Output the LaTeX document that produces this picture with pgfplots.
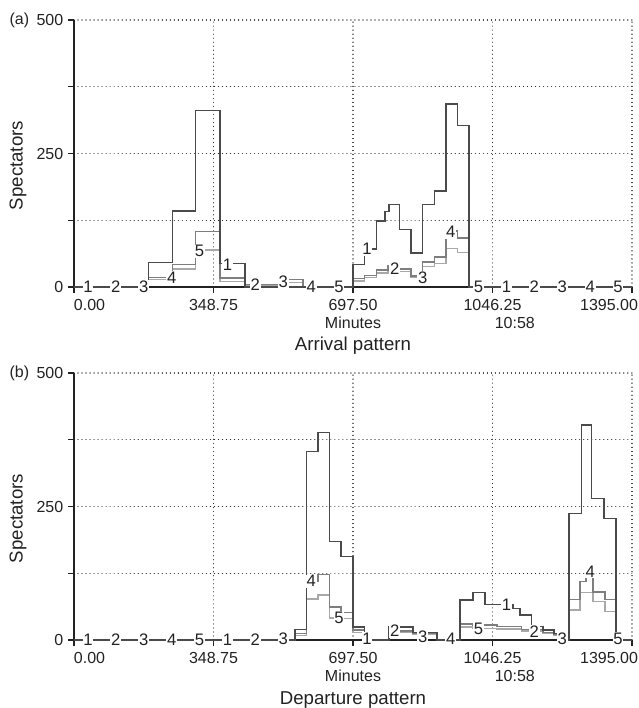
\documentclass[border=0pt]{standalone}
\usepackage{pgfplots}
\pgfplotsset{compat=1.18}
\usepackage{fontspec}
\setmainfont{Liberation Sans}

\definecolor{serA}{HTML}{4A4A4A}
\definecolor{serD}{HTML}{7E7E7E}
\definecolor{serE}{HTML}{A8A8A8}
\definecolor{ink}{HTML}{222222}

\newcommand{\tk}{\fontsize{12}{14}\selectfont}
\newcommand{\nm}{\fontsize{12.5}{14}\selectfont}
\newcommand{\ttl}{\fontsize{14}{16}\selectfont}

\pgfplotsset{
  panel/.style={
    width=418.5pt, height=200.25pt, scale only axis,
    xmin=0, xmax=1395, ymin=0, ymax=500,
    axis x line*=bottom, axis y line*=left,
    axis line style={-, ink, line width=1pt},
    xtick={0,348.75,697.5,1046.25,1395},
    xticklabels={\makebox[0pt][l]{0.00},348.75,697.50,1046.25,\makebox[9pt][r]{1395.00}},
    ytick={0,125,250,375,500},
    yticklabels={0,,250,,500},
    tick align=outside, major tick length=4.5pt,
    tick style={ink, line width=0.8pt},
    ticklabel style={font=\tk, text=ink},
    xticklabel style={yshift=-1.5pt},
    grid=major,
    grid style={black!85, line width=0.9pt, dash pattern=on 0.01pt off 3pt, line cap=round},
    clip=false,
    /pgf/number format/assume math mode=true,
  },
  step/.style={const plot, mark=none, line width=1.1pt},
  nums/.style={draw=none, mark=none, nodes near coords, point meta=explicit symbolic,
    every node near coord/.append style={anchor=center, fill=white, inner sep=0.6pt, font=\nm, text=ink}},
}

\begin{document}
\begin{tikzpicture}
\path[use as bounding box] (-55.5pt,-315.75pt) rectangle (423.75pt,215.25pt);

% (a) arrival pattern
\begin{axis}[panel, at={(0,0)}, anchor=south west]
\addplot[step, serE] coordinates {(0,0) (186,14) (246,34) (304,69) (365,10) (427,3) (532,8) (573,0) (697.5,11) (726.6,18) (755.6,26) (784.7,32) (813.75,29) (842.8,18) (871.9,38) (900.9,44) (930,72) (959,65) (988,0) (1395,0)};
\addplot[step, serD] coordinates {(0,0) (186,18) (246,42) (304,104) (365,17) (427,5) (532,14) (573,0) (697.5,16) (726.6,22) (755.6,32) (784.7,40) (813.75,34) (842.8,21) (871.9,47) (900.9,56) (930,105) (959,92) (988,0) (1395,0)};
\addplot[step, serA] coordinates {(0,0) (186,46) (246,142) (304,331) (365,44) (427,0) (697.5,42) (726.6,71) (755.6,124) (777,141) (788,155) (813.75,108) (842.8,64) (871.9,155) (900.9,180) (930,343) (959,302) (988,0) (1395,0)};
\addplot[nums] table[x=x, y=y, meta=l] {
x y l
34.875 0 1
104.625 0 2
174.375 0 3
244.125 17 4
313.875 67 5
383.625 42 1
453.375 4 2
523.125 10 3
592.875 0 4
662.625 0 5
732.375 71 1
802.125 34 2
871.875 18 3
941.625 103 4
1011.375 0 5
1081.125 0 1
1150.875 0 2
1220.625 0 3
1290.375 0 4
1360.125 0 5
};
\node[font=\tk, text=ink] at (rel axis cs:0.5,0) [yshift=-27pt] {Minutes};
\node[font=\tk, text=ink] at (rel axis cs:0.79,0) [yshift=-27pt] {10:58};
\node[font=\ttl, text=ink] at (rel axis cs:0.5,0) [yshift=-44.25pt] {Arrival pattern};
\node[font=\tk, text=ink] at (rel axis cs:0,1) [xshift=-41pt] {(a)};
\node[font=\ttl, text=ink, xshift=-42pt, rotate=90] at (rel axis cs:0,0.455) {Spectators};
\end{axis}

% (b) departure pattern
\begin{axis}[panel, at={(0,-264.75pt)}, anchor=south west]
\addplot[step, serE] coordinates {(0,0) (552,8) (581,77) (610,84) (639,41) (668,40) (697.5,14) (726.6,0) (788,14) (848,10) (907,0) (965,24) (998,22) (1057,21) (1119,17) (1173,12) (1200,8) (1215,0) (1238,56) (1265,89) (1298,72) (1327,53) (1355,0) (1395,0)};
\addplot[step, serD] coordinates {(0,0) (552,12) (581,110) (610,123) (639,62) (668,52) (697.5,19) (726.6,0) (788,17) (848,12) (907,0) (965,30) (998,28) (1057,25) (1119,20) (1173,14) (1200,10) (1215,0) (1238,76) (1265,110) (1280,128) (1298,90) (1327,76) (1355,0) (1395,0)};
\addplot[step, serA] coordinates {(0,0) (552,20) (581,353) (610,389) (639,184) (668,156) (697.5,24) (726.6,0) (788,24) (848,14) (907,0) (965,75) (998,89) (1027,66) (1098,59) (1115,47) (1144,25) (1173,19) (1200,12) (1215,0) (1238,237) (1269,403) (1294,265) (1325,228) (1355,0) (1395,0)};
\addplot[nums] table[x=x, y=y, meta=l] {
x y l
34.875 0 1
104.625 0 2
174.375 0 3
244.125 0 4
313.875 0 5
383.625 0 1
453.375 0 2
523.125 2 3
592.875 110 4
662.625 41 5
732.375 2 1
802.125 17 2
871.875 7 3
941.625 2 4
1011.375 21 5
1081.125 66 1
1150.875 15 2
1220.625 2 3
1290.375 128 4
1360.125 2 5
};
\node[font=\tk, text=ink] at (rel axis cs:0.5,0) [yshift=-27pt] {Minutes};
\node[font=\tk, text=ink] at (rel axis cs:0.79,0) [yshift=-27pt] {10:58};
\node[font=\ttl, text=ink] at (rel axis cs:0.5,0) [yshift=-45pt] {Departure pattern};
\node[font=\tk, text=ink] at (rel axis cs:0,1) [xshift=-41pt] {(b)};
\node[font=\ttl, text=ink, xshift=-42pt, rotate=90] at (rel axis cs:0,0.455) {Spectators};
\end{axis}
\end{tikzpicture}
\end{document}
